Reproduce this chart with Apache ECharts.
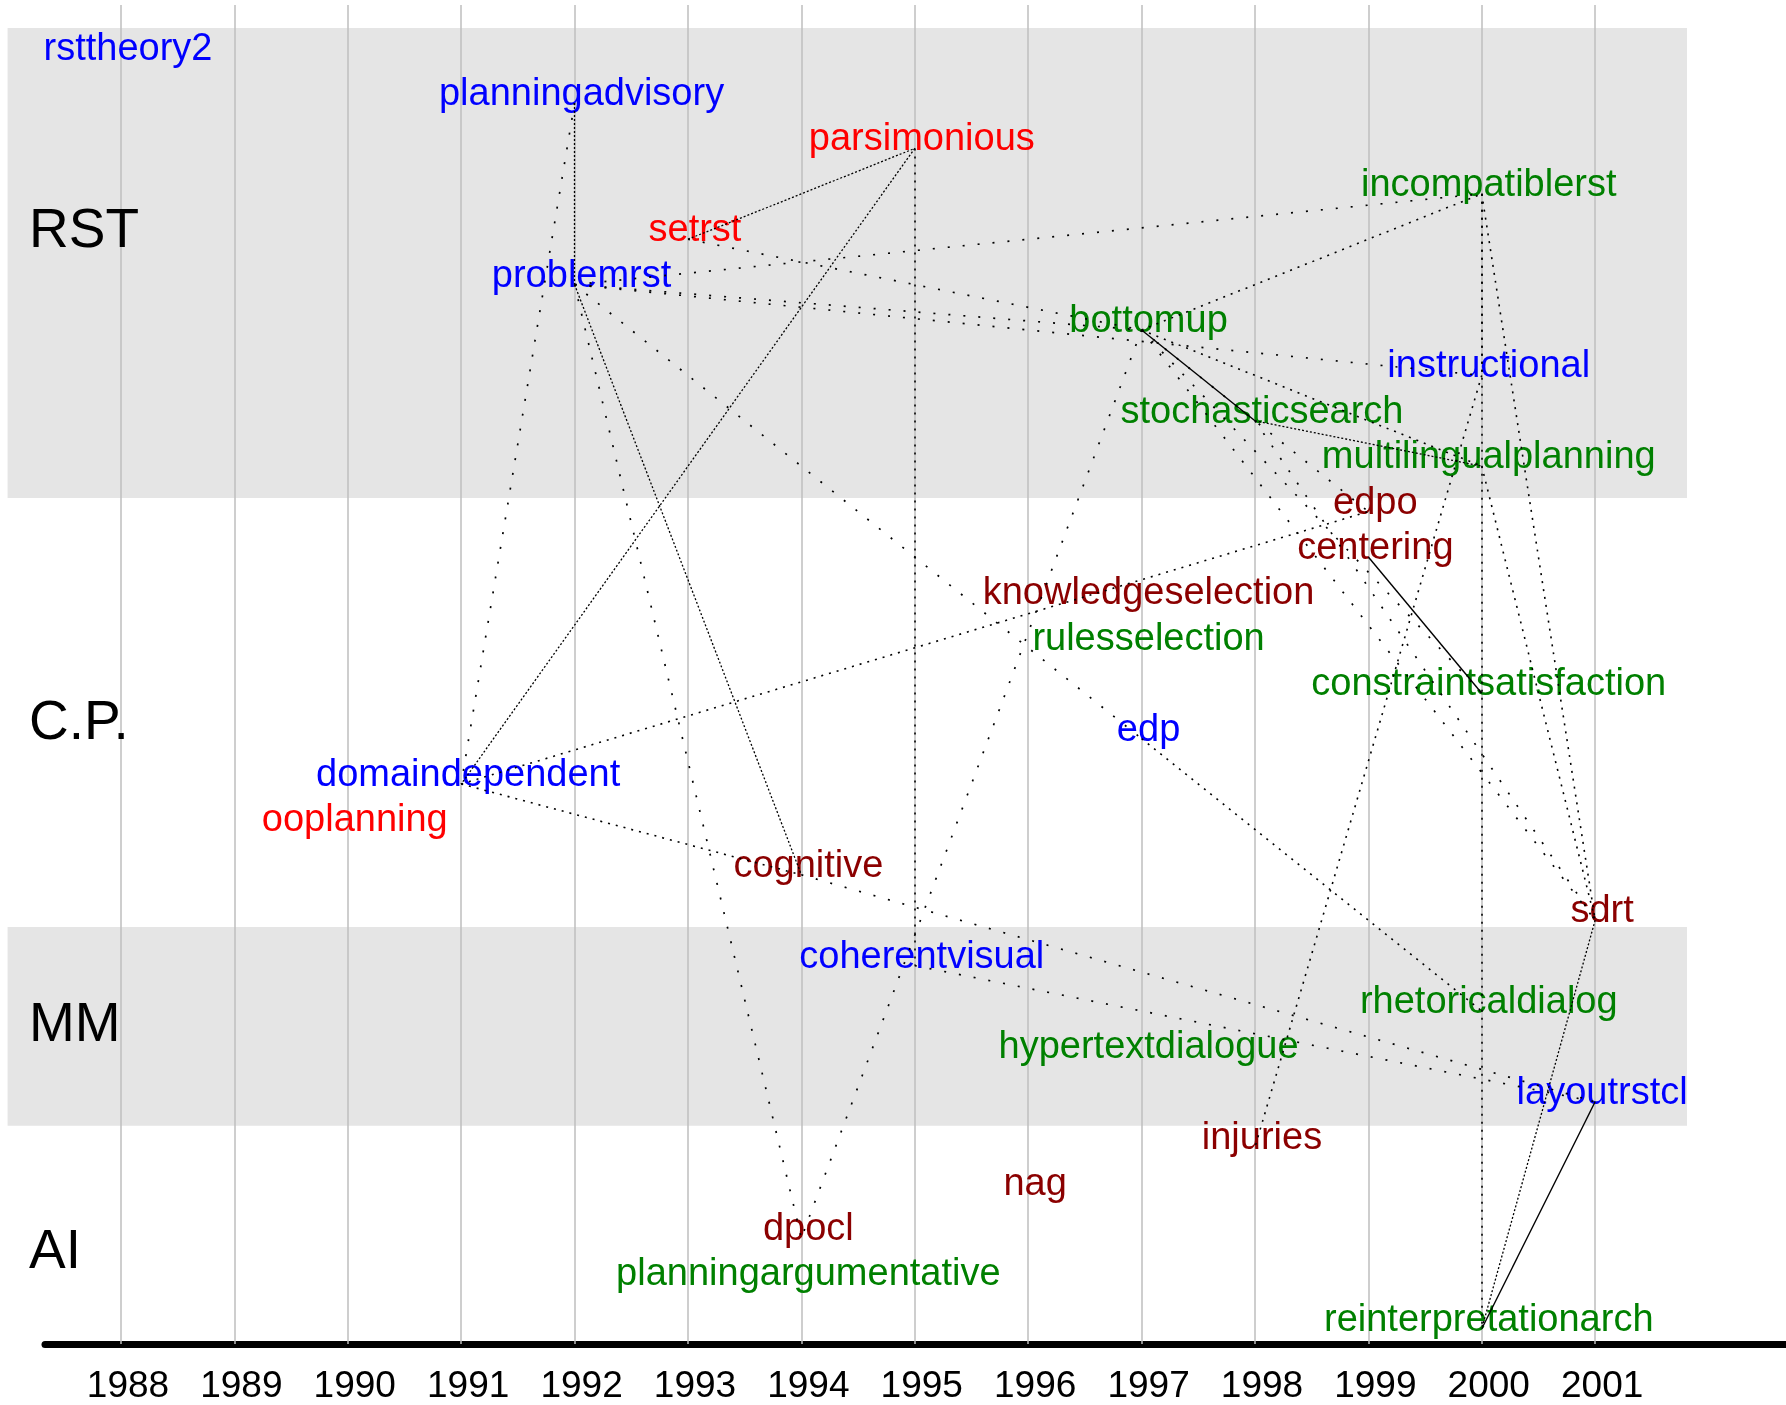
<!DOCTYPE html>
<html>
<head>
<meta charset="utf-8">
<script src="https://cdn.jsdelivr.net/npm/echarts@6/dist/echarts.min.js"></script>
<style>
html,body{margin:0;padding:0;background:#ffffff;}
#chart{width:1786px;height:1405px;}
</style>
</head>
<body>
<div id="chart"></div>
<script>
// ---------------- data ----------------
const years = [1988,1989,1990,1991,1992,1993,1994,1995,1996,1997,1998,1999,2000,2001];

const nodeNames = ['rsttheory2','planningadvisory','parsimonious','incompatiblerst','setrst','problemrst',
  'bottomup','instructional','stochasticsearch','multilingualplanning','edpo','centering',
  'knowledgeselection','rulesselection','constraintsatisfaction','edp','domaindependent','ooplanning',
  'cognitive','sdrt','coherentvisual','rhetoricaldialog','hypertextdialogue','layoutrstcl',
  'injuries','nag','dpocl','planningargumentative','reinterpretationarch'];
const nodeYears = [1988,1992,1995,2000,1993,1992,1997,2000,1998,2000,1999,1999,1997,1997,2000,1997,1991,1990,
  1994,2001,1995,2000,1997,2001,1998,1996,1994,1994,2000];
const nodeRows = [0,1,2,3,4,5,6,7,8,9,10,11,12,13,14,15,16,17,18,19,20,21,22,23,24,25,26,27,28];
const nodeGroups = ['b','b','r','g','r','b','g','b','g','g','d','d','d','g','g','b','b','r','d','d','b','g','g','b','d','d','d','g','g'];

// edges: from, to, stroke kind
const edgeFrom = ['planningadvisory','planningadvisory','setrst','parsimonious','parsimonious','setrst',
  'problemrst','problemrst','problemrst','problemrst','edp','problemrst','problemrst','domaindependent',
  'domaindependent','cognitive','coherentvisual','bottomup','bottomup','stochasticsearch','bottomup',
  'bottomup','bottomup','bottomup','bottomup','stochasticsearch','centering','incompatiblerst',
  'incompatiblerst','multilingualplanning','instructional','layoutrstcl','sdrt','incompatiblerst'];
const edgeTo = ['problemrst','domaindependent','parsimonious','domaindependent','coherentvisual','bottomup',
  'bottomup','instructional','incompatiblerst','edp','rhetoricaldialog','dpocl','cognitive','edpo',
  'cognitive','layoutrstcl','layoutrstcl','incompatiblerst','stochasticsearch','multilingualplanning','multilingualplanning',
  'edpo','constraintsatisfaction','sdrt','dpocl','sdrt','constraintsatisfaction','reinterpretationarch',
  'sdrt','sdrt','injuries','reinterpretationarch','reinterpretationarch','instructional'];
const edgeKind = ['d','p','d','d','m','p',
  'p','p','p','p','m','p','d','m',
  'm','p','p','m','s','d','m',
  'p','p','p','p','p','s','m',
  'm','m','m','s','d','m'];

const rowNames = ['RST','C.P.','MM','AI'];
const rowLabelLevels = [3.84, 14.68, 21.33, 26.33];
const bandTop = [-0.65, 19.15];
const bandBottom = [9.70, 23.53];

// ---------------- layout constants ----------------
const X_MIN = 1987.33, X_MAX = 2002.683;
const Y_MIN = -1.159, Y_MAX = 28.335;
const BAND_X0 = 1987.0, BAND_X1 = 2001.81;
const ROW_LABEL_X = 1987.18;
const FONT = '"Liberation Sans", Arial, Helvetica, sans-serif';

const colorMap = {b:'#0000ff', r:'#ff0000', g:'#008000', d:'#8b0000'};
const strokeMap = {
  s: {type:'solid', width:1.4},
  d: {type:[2,2], width:1.3},
  m: {type:[2,6], width:1.6},
  p: {type:[2,13], width:1.7}
};

const idx = {};
nodeNames.forEach((n,i)=>{ idx[n]=i; });

const nodeData = nodeNames.map((n,i)=>({
  name:n, value:[nodeYears[i], nodeRows[i]],
  label:{color: colorMap[nodeGroups[i]]}
}));

const edgeData = edgeFrom.map((a,i)=>{
  const ia = idx[a], ib = idx[edgeTo[i]];
  return {
    coords:[[nodeYears[ia], nodeRows[ia]],[nodeYears[ib], nodeRows[ib]]],
    lineStyle: Object.assign({color:'#000000', opacity:1}, strokeMap[edgeKind[i]])
  };
});

const gridData = years.map(y=>({coords:[[y, Y_MIN],[y, Y_MAX]]}));

const bandData = bandTop.map((t,i)=>[t, bandBottom[i]]);

const rowData = rowNames.map((n,i)=>({name:n, value:[ROW_LABEL_X, rowLabelLevels[i]]}));

const chart = echarts.init(document.getElementById('chart'), null, {renderer:'canvas'});

const option = {
  animation:false,
  backgroundColor:'#ffffff',
  grid:{left:45, right:0, top:5, bottom:61, containLabel:false, outerBoundsMode:'none'},
  xAxis:{
    type:'value', min:X_MIN, max:X_MAX,
    splitLine:{show:false}, axisTick:{show:false},
    axisLine:{show:true, onZero:false, lineStyle:{color:'#000000', width:7}},
    axisLabel:{
      customValues: years,
      formatter: v => String(Math.round(v)),
      fontSize:37, color:'#000000', fontFamily:FONT,
      margin:24, lineHeight:37, padding:[0,0,0,14]
    }
  },
  yAxis:{type:'value', inverse:true, min:Y_MIN, max:Y_MAX, show:false},
  series:[
    {
      type:'custom', z:0, silent:true, clip:false,
      data: bandData,
      renderItem:(params, api)=>{
        const p1 = api.coord([BAND_X0, api.value(0)]);
        const p2 = api.coord([BAND_X1, api.value(1)]);
        return {type:'rect', shape:{x:p1[0], y:p1[1], width:p2[0]-p1[0], height:p2[1]-p1[1]},
          style:{fill:'#e5e5e5'}};
      }
    },
    {
      type:'lines', coordinateSystem:'cartesian2d', z:1, silent:true,
      data: gridData,
      lineStyle:{color:'#bebebe', width:1.5, type:'solid', opacity:1}
    },
    {
      type:'scatter', z:2, silent:true,
      data: nodeData,
      symbolSize:2, itemStyle:{color:'rgba(0,0,0,0)', opacity:1},
      label:{show:true, position:'inside', formatter:'{b}', fontSize:38, fontFamily:FONT, offset:[7,-8.5], opacity:1}
    },
    {
      type:'lines', coordinateSystem:'cartesian2d', z:3, silent:true,
      data: edgeData
    },
    {
      type:'scatter', z:2, silent:true, clip:false,
      data: rowData,
      symbolSize:2, itemStyle:{color:'rgba(0,0,0,0)', opacity:1},
      label:{show:true, position:'right', distance:0, formatter:'{b}', fontSize:55, fontFamily:FONT, color:'#000000', opacity:1}
    }
  ]
};
chart.setOption(option);
</script>
</body>
</html>
